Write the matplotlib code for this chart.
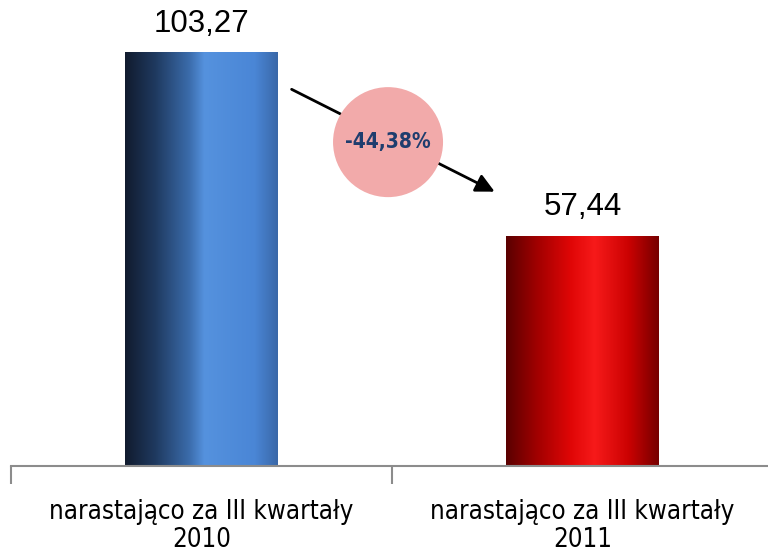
import numpy as np
import matplotlib
matplotlib.use('Agg')
import matplotlib.pyplot as plt
from matplotlib.colors import LinearSegmentedColormap
from matplotlib.patches import Ellipse

# ── Données ────────────────────────────────────────────────────────────
categories = ['narastająco za III kwartały\n2010', 'narastająco za III kwartały\n2011']
values = [103.27, 57.44]
value_labels = ['103,27', '57,44']
change_label = '-44,38%'

# ── Dégradés horizontaux des barres ────────────────────────────────────
cmap_blue = LinearSegmentedColormap.from_list('b', [
    (0.0, '#111b2e'), (0.2, '#1f3a60'), (0.42, '#3b6cab'),
    (0.52, '#5592de'), (0.85, '#4a86d6'), (1.0, '#3a68a8')])
cmap_red = LinearSegmentedColormap.from_list('r', [
    (0.0, '#5a0000'), (0.2, '#a00000'), (0.42, '#df0606'),
    (0.58, '#f71a1a'), (0.8, '#cc0202'), (1.0, '#760000')])

fig = plt.figure(figsize=(7.68, 5.58), dpi=100)
ax = fig.add_axes([11 / 768, 92 / 558, 762 / 768, 466 / 558])

x = np.arange(len(values))
bars = ax.bar(x, values, width=0.4, color='none', zorder=2)
grad = np.linspace(0, 1, 256).reshape(1, -1)
for b, cm in zip(bars, [cmap_blue, cmap_red]):
    x0, y0 = b.get_x(), b.get_y()
    ax.imshow(grad, cmap=cm, aspect='auto', zorder=1,
              extent=[x0, x0 + b.get_width(), y0, y0 + b.get_height()])

for xi, v, lab in zip(x, values, value_labels):
    ax.text(xi, v + 3.5, lab, ha='center', va='bottom', fontsize=22.5,
            family='Liberation Sans', color='black')

ax.set_xlim(-0.5, 1.5)
ax.set_ylim(0, 116.5)

# ── Axes ───────────────────────────────────────────────────────────────
for s in ['top', 'right', 'left']:
    ax.spines[s].set_visible(False)
ax.spines['bottom'].set_color('#8c8c8c')
ax.spines['bottom'].set_linewidth(1.5)
ax.set_yticks([])
ax.set_xticks(x)
ax.set_xticklabels(categories, fontsize=18.5, family='DejaVu Sans',
                   fontstretch='condensed', linespacing=1.08)
ax.tick_params(axis='x', which='major', length=0, pad=24)
ax.set_xticks([-0.5, 0.5, 1.5], minor=True)
ax.tick_params(axis='x', which='minor', length=13, width=1.5, color='#8c8c8c')

# ── Flèche et cercle de variation ──────────────────────────────────────
ax.annotate('', xy=(0.638, 0.586), xytext=(0.365, 0.811), xycoords='axes fraction',
            arrowprops=dict(arrowstyle='-|>', color='black', lw=2, mutation_scale=28),
            zorder=3)
ax.add_patch(Ellipse((0.4948, 0.695), 110 / 762, 110 / 466, transform=ax.transAxes,
                     facecolor='#f2aaaa', edgecolor='none', zorder=4))
ax.text(0.4948, 0.695, change_label, transform=ax.transAxes, ha='center', va='center',
        fontsize=15, fontweight='bold', fontstretch='condensed', color='#1f3d6e', zorder=5)

fig.savefig('out.png', dpi=100)
